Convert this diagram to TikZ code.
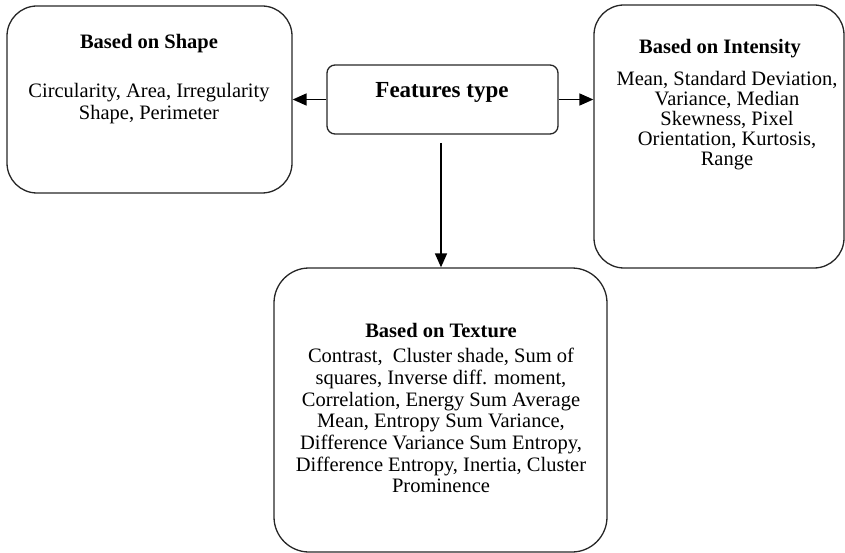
\documentclass[tikz,border=0pt]{standalone}
\usepackage{fontspec}
\setmainfont{Liberation Serif}
\usetikzlibrary{arrows.meta}
\begin{document}
\begin{tikzpicture}[x=1pt,y=-1pt,
  bigbox/.style={draw=black!85,line width=1.3pt,rounded corners=30pt,inner sep=0pt},
  smallbox/.style={draw=black!85,line width=1.3pt,rounded corners=8pt,inner sep=0pt},
  txt/.style={inner sep=0pt,align=center,anchor=north,font=\fontsize{20.5}{21.7}\selectfont},
  ttl/.style={inner sep=0pt,anchor=north,font=\fontsize{20.5}{21.7}\selectfont\bfseries},
  conn/.style={line width=1.6pt,-{Triangle[length=14pt,width=12pt]}}]
\useasboundingbox (0,0) rectangle (845,553);
% boxes
\node[bigbox,minimum width=285pt,minimum height=187pt] (shape) at (149.5,99.5) {};
\node[bigbox,minimum width=250pt,minimum height=263pt] (intens) at (719,136.5) {};
\node[bigbox,rounded corners=35pt,minimum width=333pt,minimum height=284pt] (texture) at (440.5,410) {};
\node[smallbox,minimum width=231pt,minimum height=69pt] (feat) at (442.5,99.5) {};
% texts
\node[inner sep=0pt,anchor=north,font=\fontsize{23}{26}\selectfont\bfseries] (featt) at (442,82.3) {Features type};
\node[ttl] (shapet) at (149,34) {Based on Shape};
\node[txt] (shapeb) at (149,83) {Circularity, Area, Irregularity\\Shape, Perimeter};
\node[ttl] (intenst) at (720,39) {Based on Intensity};
\node[txt,font=\fontsize{20.5}{20}\selectfont] (intensb) at (727,71) {Mean, Standard Deviation,\\Variance, Median\\Skewness, Pixel\\Orientation, Kurtosis,\\Range};
\node[ttl] (texturet) at (441,323) {Based on Texture};
\node[txt] (textureb) at (441,348) {Contrast,~ Cluster shade, Sum of\\squares, Inverse diff. moment,\\Correlation, Energy Sum Average\\Mean, Entropy Sum Variance,\\Difference Variance Sum Entropy,\\Difference Entropy, Inertia, Cluster\\Prominence};
% connectors
\coordinate (down) at (441,143);
\draw[conn] (feat.west) -- (shape.east |- feat.west);
\draw[conn] (feat.east) -- (intens.west |- feat.east);
\draw[conn] (down) -- (down |- texture.north);
\end{tikzpicture}
\end{document}
